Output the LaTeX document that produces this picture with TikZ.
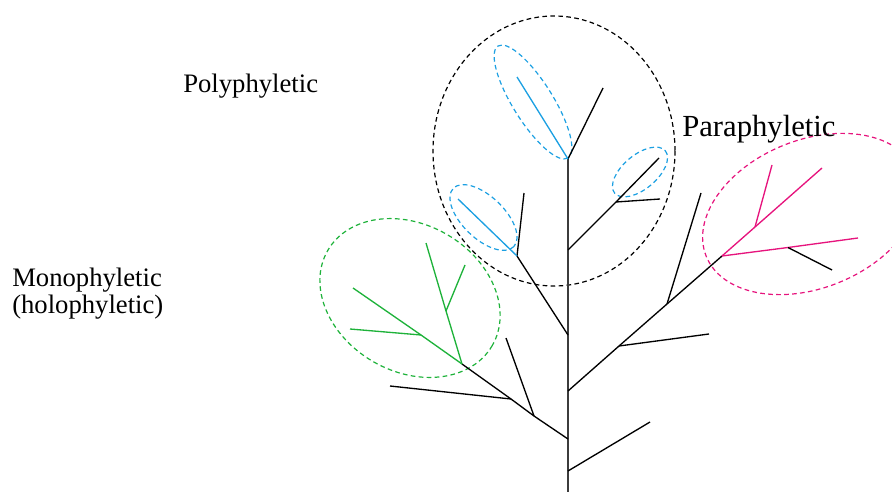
\documentclass[tikz,border=0pt]{standalone}
\usepackage{fontspec}
\setmainfont{Liberation Serif}
\definecolor{cladeblue}{RGB}{28,160,226}
\definecolor{cladegreen}{RGB}{30,178,58}
\definecolor{cladepink}{RGB}{230,20,125}
\definecolor{trunkgrey}{RGB}{60,60,60}
\begin{document}
\begin{tikzpicture}[x=0.75pt,y=-0.75pt,
  branch/.style={line width=1pt},
  trunkline/.style={line width=1.5pt, draw=trunkgrey},
  grp/.style={line width=0.9pt, dash pattern=on 3.5pt off 2.5pt},
  lbl/.style={inner sep=0pt, anchor=base west, font=\fontsize{20}{27}\selectfont}]
\useasboundingbox (0,0) rectangle (892,492);

% tree coordinates
\coordinate (t0) at (568,492);
\coordinate (t1) at (568,159);
\coordinate (j1) at (568,250);
\coordinate (j2) at (568,335);
\coordinate (j3) at (568,391);
\coordinate (j4) at (568,439);
\coordinate (j5) at (568,471);
\coordinate (l1) at (603,88);
\coordinate (l2) at (517,77);
\coordinate (f1) at (616,202);
\coordinate (l3) at (659,158);
\coordinate (l4) at (660,199);
\coordinate (a) at (517,256);
\coordinate (l5) at (524,193);
\coordinate (l6) at (458,199);
\coordinate (q1) at (619,346);
\coordinate (q2) at (667,304);
\coordinate (p) at (722,256);
\coordinate (l7) at (709,334);
\coordinate (l8) at (701,193);
\coordinate (s1) at (755,227);
\coordinate (l9) at (822,168);
\coordinate (l10) at (772,165);
\coordinate (s2) at (788,247.5);
\coordinate (l11) at (858,238);
\coordinate (l12) at (832,270);
\coordinate (k1) at (511,399);
\coordinate (k2) at (534,416);
\coordinate (g) at (462,364);
\coordinate (l13) at (390,386);
\coordinate (l14) at (506,338);
\coordinate (m1) at (421,335);
\coordinate (l15) at (353,288);
\coordinate (l16) at (350,329);
\coordinate (m2) at (446,311);
\coordinate (l17) at (426,243);
\coordinate (l18) at (465,265);
\coordinate (l19) at (650,422);

% group outlines
\draw[grp] (554,151) ellipse [x radius=121, y radius=135];
\draw[grp, cladeblue, rotate around={-58:(533,102)}] (533,102) ellipse [x radius=66, y radius=20];
\draw[grp, cladeblue, rotate around={-44:(483.5,217.5)}] (483.5,217.5) ellipse [x radius=42, y radius=21];
\draw[grp, cladeblue, rotate around={40:(640,172)}] (640,172) ellipse [x radius=33, y radius=17];
\draw[grp, cladegreen, rotate around={-30:(410,298)}] (410,298) ellipse [x radius=95, y radius=73.5];
\draw[grp, cladepink, rotate around={22:(811,214)}] (811,214) ellipse [x radius=113, y radius=74];

% trunk
\draw[trunkline] (t0) -- (t1);
% top fork
\draw[branch] (t1) -- (l1);
\draw[branch, cladeblue] (t1) -- (l2);
% j1
\draw[branch] (j1) -- (f1) -- (l3);
\draw[branch] (f1) -- (l4);
% j2
\draw[branch] (j2) -- (a);
\draw[branch] (a) -- (l5);
\draw[branch, cladeblue] (a) -- (l6);
% j3
\draw[branch] (j3) -- (q1) -- (q2) -- (p);
\draw[branch] (q1) -- (l7);
\draw[branch] (q2) -- (l8);
\draw[branch, cladepink] (p) -- (s1) -- (l9);
\draw[branch, cladepink] (s1) -- (l10);
\draw[branch, cladepink] (p) -- (s2) -- (l11);
\draw[branch] (s2) -- (l12);
% j4
\draw[branch] (j4) -- (k2) -- (k1) -- (g);
\draw[branch] (k1) -- (l13);
\draw[branch] (k2) -- (l14);
\draw[branch, cladegreen] (g) -- (m1) -- (l15);
\draw[branch, cladegreen] (m1) -- (l16);
\draw[branch, cladegreen] (g) -- (m2) -- (l17);
\draw[branch, cladegreen] (m2) -- (l18);
% j5
\draw[branch] (j5) -- (l19);

% labels
\node[lbl] (poly) at (183,93) {Polyphyletic};
\node[lbl] (mono) at (12,286) {Monophyletic};
\node[lbl] (holo) at (12,313) {(holophyletic)};
\node[lbl, font=\fontsize{23}{28}\selectfont] (para) at (682,137) {Paraphyletic};
\end{tikzpicture}
\end{document}
